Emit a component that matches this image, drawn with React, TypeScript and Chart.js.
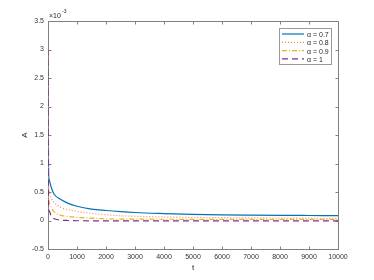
import React, { useEffect, useRef } from "react";
import { Chart, registerables } from "chart.js";

Chart.register(...registerables);

const tValues = [0, 20, 50, 100, 200, 400, 700, 1000, 1500, 2000, 2500, 3000, 4000, 5000, 6000, 7000, 8000, 9000, 10000];
// values in units of 1e-3
const alpha07 = [3, 0.85, 0.7, 0.6, 0.47, 0.38, 0.3, 0.25, 0.2, 0.175, 0.155, 0.14, 0.122, 0.108, 0.1, 0.095, 0.091, 0.088, 0.085];
const alpha08 = [3, 0.6, 0.48, 0.4, 0.32, 0.24, 0.19, 0.16, 0.125, 0.1, 0.085, 0.075, 0.062, 0.055, 0.05, 0.046, 0.043, 0.04, 0.038];
const alpha09 = [3, 0.4, 0.3, 0.24, 0.16, 0.1, 0.07, 0.055, 0.04, 0.03, 0.025, 0.024, 0.022, 0.021, 0.02, 0.02, 0.02, 0.02, 0.02];
const alpha10 = [3, 0.25, 0.16, 0.09, 0.035, 0.01, 0, -0.004, -0.005, -0.005, -0.005, -0.005, -0.005, -0.005, -0.005, -0.005, -0.005, -0.005, -0.005];

const seriesLabels = ["α = 0.7", "α = 0.8", "α = 0.9", "α = 1"];
const seriesColors = ["#0072BD", "#F08A5D", "#EDB120", "#7E2F8E"];
const seriesDashes: number[][] = [[], [1, 2], [5, 2, 1, 2], [6, 4]];
const seriesData = [alpha07, alpha08, alpha09, alpha10];

const xTitle = "t";
const yTitle = "A";
const FONT = "Liberation Sans, Arial, sans-serif";

export default function App() {
  const ref = useRef<HTMLCanvasElement>(null);
  useEffect(() => {
    const canvas = ref.current!;
    const decor = {
      id: "decor",
      beforeDatasetsDraw(chart: any) {
        const ctx = chart.ctx;
        const a = chart.chartArea;
        const xs = chart.scales.x;
        const ys = chart.scales.y;
        ctx.save();
        ctx.strokeStyle = "#808080";
        ctx.lineWidth = 1;
        ctx.setLineDash([]);
        const L = Math.round(a.left) + 0.5, R = Math.round(a.right) + 0.5;
        const T = Math.round(a.top) + 0.5, B = Math.round(a.bottom) + 0.5;
        ctx.strokeRect(L, T, R - L, B - T);
        ctx.beginPath();
        for (let v = 0; v <= 10000; v += 1000) {
          const px = Math.round(xs.getPixelForValue(v)) + 0.5;
          ctx.moveTo(px, B); ctx.lineTo(px, B - 3);
          ctx.moveTo(px, T); ctx.lineTo(px, T + 3);
        }
        for (let v = -0.5; v <= 3.5; v += 0.5) {
          const py = Math.round(ys.getPixelForValue(v)) + 0.5;
          ctx.moveTo(L, py); ctx.lineTo(L + 3, py);
          ctx.moveTo(R, py); ctx.lineTo(R - 3, py);
        }
        ctx.stroke();
        ctx.fillStyle = "#262626";
        ctx.font = `8px ${FONT}`;
        ctx.textAlign = "center";
        ctx.textBaseline = "middle";
        ctx.fillText(xTitle, (a.left + a.right) / 2, 268);
        ctx.save();
        ctx.translate(25, (a.top + a.bottom) / 2);
        ctx.rotate(-Math.PI / 2);
        ctx.fillText(yTitle, 0, 0);
        ctx.restore();
        ctx.textAlign = "left";
        ctx.font = `7px ${FONT}`;
        ctx.fillText("×10", a.left + 1, 16);
        ctx.font = `5px ${FONT}`;
        ctx.fillText("-3", a.left + 14, 12);
        ctx.restore();
      },
      afterDraw(chart: any) {
        const ctx = chart.ctx;
        ctx.save();
        const bx = 279.5, by = 28.5, bw = 52, bh = 36;
        ctx.fillStyle = "#fff";
        ctx.fillRect(bx, by, bw, bh);
        ctx.strokeStyle = "#999";
        ctx.lineWidth = 1;
        ctx.strokeRect(bx, by, bw, bh);
        ctx.font = `7px ${FONT}`;
        ctx.textBaseline = "middle";
        ctx.textAlign = "left";
        for (let i = 0; i < seriesLabels.length; i++) {
          const y = 34 + i * 8.3;
          ctx.strokeStyle = seriesColors[i];
          ctx.lineWidth = 1.2;
          ctx.setLineDash(seriesDashes[i]);
          ctx.beginPath();
          ctx.moveTo(282, y); ctx.lineTo(304, y);
          ctx.stroke();
          ctx.setLineDash([]);
          ctx.fillStyle = "#262626";
          ctx.fillText(seriesLabels[i], 307, y + 1);
        }
        ctx.restore();
      },
    };
    const chart = new Chart(canvas, {
      type: "line",
      data: {
        datasets: seriesData.map((arr, i) => ({
          label: seriesLabels[i],
          data: arr.map((v, j) => ({ x: tValues[j], y: v })),
          borderColor: seriesColors[i],
          borderDash: seriesDashes[i],
          borderWidth: 1.2,
          pointRadius: 0,
          order: seriesData.length - 1 - i,
          cubicInterpolationMode: "monotone" as const,
          fill: false,
        })),
      },
      options: {
        animation: false,
        responsive: false,
        maintainAspectRatio: false,
        layout: { padding: { left: 0, right: 36, top: 21, bottom: 0 } },
        plugins: { legend: { display: false }, tooltip: { enabled: false } },
        scales: {
          x: {
            type: "linear",
            min: 0,
            max: 10000,
            grid: { display: false, drawTicks: false },
            border: { display: false },
            ticks: { stepSize: 1000, padding: 4, color: "#333", font: { size: 7, family: FONT }, maxRotation: 0, autoSkip: false, callback: (v: any) => String(Number(v)) },
            afterFit: (s: any) => { s.height = 31; },
          },
          y: {
            type: "linear",
            min: -0.5,
            max: 3.5,
            grid: { display: false, drawTicks: false },
            border: { display: false },
            ticks: { stepSize: 0.5, padding: 4, color: "#333", font: { size: 7, family: FONT }, callback: (v: any) => String(Number(v)) },
            afterFit: (s: any) => { s.width = 48; },
          },
        },
      },
      plugins: [decor],
    });
    return () => chart.destroy();
  }, []);
  return (
    <div style={{ position: "fixed", left: 0, top: 0, width: 374, height: 280, background: "#fff" }}>
      <canvas ref={ref} width={374} height={280} style={{ width: 374, height: 280 }} />
    </div>
  );
}
